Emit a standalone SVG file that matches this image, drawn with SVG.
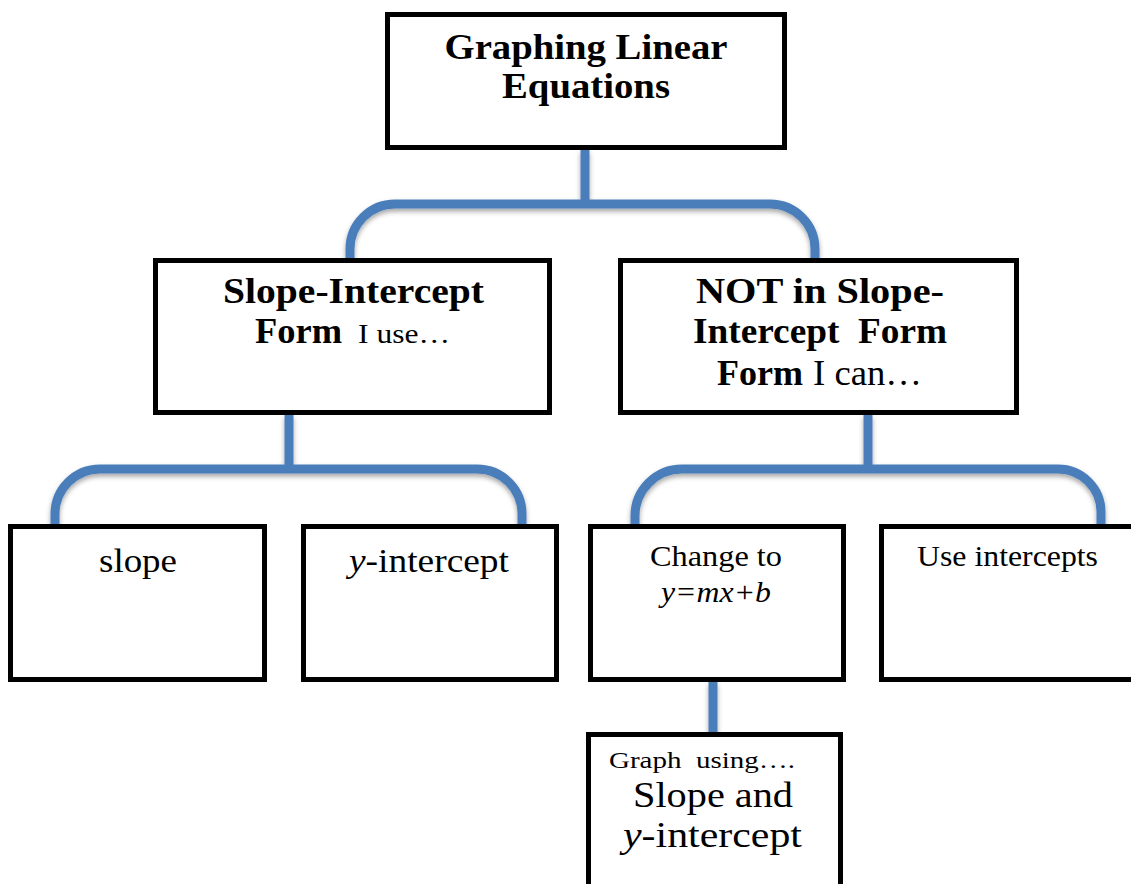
<svg xmlns="http://www.w3.org/2000/svg" width="1131" height="884" viewBox="0 0 1131 884">
<style>
.box{fill:#fff;stroke:#000;stroke-width:5}
.conn{fill:none;stroke:#4a7ebb;stroke-width:9}
.hb{font-family:"Liberation Serif",serif;font-weight:bold;fill:#000}
.hr{font-family:"Liberation Serif",serif;fill:#000}
.t{font-family:"Liberation Serif",serif;fill:#000}
</style>
<defs>
<filter id="sh" x="-10%" y="-50%" width="120%" height="200%">
<feDropShadow dx="0" dy="3" stdDeviation="2.5" flood-color="#000" flood-opacity="0.35"/>
</filter>
</defs>
<g id="connectors" filter="url(#sh)">
<path class="conn" d="M585,150 L585,204 M350,258 L350,249 A45,45 0 0 1 395,204 L770,204 A45,45 0 0 1 815,249 L815,258"/>
<path class="conn" d="M289,415 L289,469 M55,524 L55,514 A45,45 0 0 1 100,469 L477,469 A45,45 0 0 1 522,514 L522,524"/>
<path class="conn" d="M868,415 L868,469 M635,524 L635,516 A47,47 0 0 1 682,469 L1058,469 A43,43 0 0 1 1101,512 L1101,524"/>
<path class="conn" d="M713,682 L713,738"/>
</g>
<g id="n-top">
<rect class="box" x="387.5" y="14.5" width="397" height="133"/>
<text class="hb" font-size="36" text-anchor="middle"><tspan x="586" y="59" textLength="283" lengthAdjust="spacingAndGlyphs">Graphing Linear</tspan><tspan x="586" y="98" textLength="168" lengthAdjust="spacingAndGlyphs">Equations</tspan></text>
</g>
<g id="n-si">
<rect class="box" x="155.5" y="260.5" width="394" height="152"/>
<text class="hb" font-size="35"><tspan x="223" y="303" textLength="261" lengthAdjust="spacingAndGlyphs">Slope-Intercept</tspan><tspan x="255" y="343" textLength="87" lengthAdjust="spacingAndGlyphs">Form</tspan><tspan class="hr" font-weight="normal" font-size="28" x="358" y="343" textLength="92" lengthAdjust="spacingAndGlyphs">I use…</tspan></text>
</g>
<g id="n-not">
<rect class="box" x="620.5" y="260.5" width="396" height="152"/>
<text class="hb" font-size="35" xml:space="preserve"><tspan x="696" y="303" textLength="248" lengthAdjust="spacingAndGlyphs">NOT in Slope-</tspan><tspan x="693" y="343" textLength="254" lengthAdjust="spacingAndGlyphs">Intercept  Form</tspan><tspan x="717" y="385" textLength="86" lengthAdjust="spacingAndGlyphs">Form</tspan><tspan font-weight="normal" x="813" y="385" textLength="109" lengthAdjust="spacingAndGlyphs">I can…</tspan></text>
</g>
<g id="n-slope">
<rect class="box" x="10.5" y="526.5" width="254" height="153"/>
<text class="t" font-size="33" x="99" y="572" textLength="78" lengthAdjust="spacingAndGlyphs">slope</text>
</g>
<g id="n-yint">
<rect class="box" x="303.5" y="526.5" width="253" height="153"/>
<text class="t" font-size="33" x="349" y="572" textLength="160" lengthAdjust="spacingAndGlyphs"><tspan font-style="italic">y</tspan>-intercept</text>
</g>
<g id="n-change">
<rect class="box" x="590.5" y="526.5" width="253" height="153"/>
<text class="t" font-size="30"><tspan x="650" y="566" textLength="132" lengthAdjust="spacingAndGlyphs">Change to</tspan><tspan font-style="italic" x="661" y="602" textLength="110" lengthAdjust="spacingAndGlyphs">y=mx+b</tspan></text>
</g>
<g id="n-use">
<rect class="box" x="881.5" y="526.5" width="260" height="153"/>
<text class="t" font-size="30" x="917" y="566" textLength="181" lengthAdjust="spacingAndGlyphs">Use intercepts</text>
</g>
<g id="n-graph">
<rect class="box" x="588.5" y="734.5" width="252" height="170"/>
<text class="t" font-size="23" xml:space="preserve"><tspan x="609" y="768" textLength="186" lengthAdjust="spacingAndGlyphs">Graph  using….</tspan></text>
<text class="t" font-size="36"><tspan x="633" y="807" textLength="160" lengthAdjust="spacingAndGlyphs">Slope and</tspan><tspan x="623" y="847" textLength="179" lengthAdjust="spacingAndGlyphs"><tspan font-style="italic">y</tspan>-intercept</tspan></text>
</g>
</svg>
